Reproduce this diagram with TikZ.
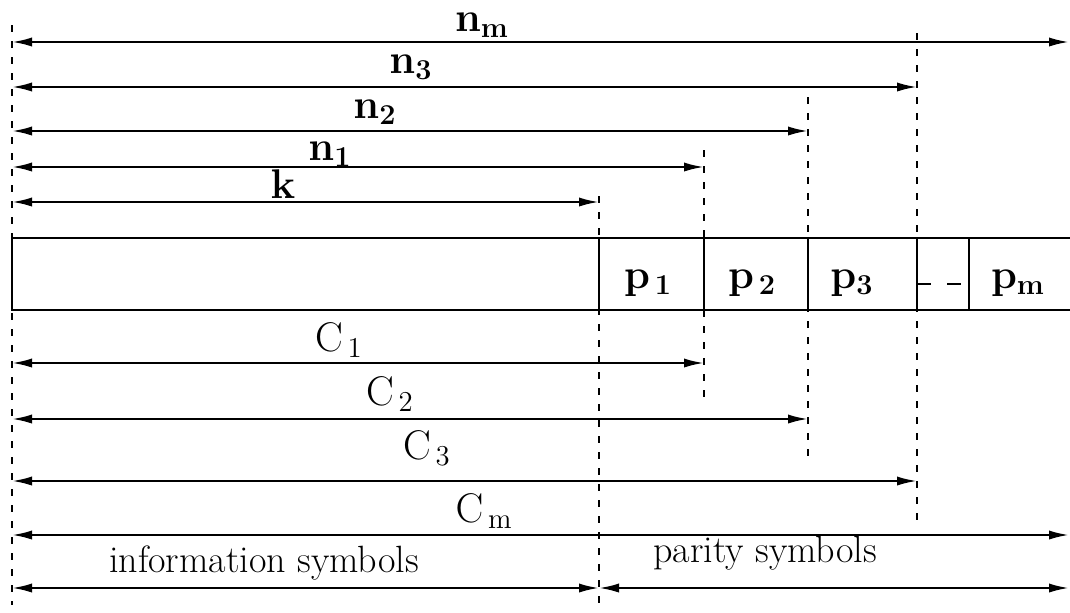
\documentclass[tikz,border=0pt]{standalone}
\usepackage{tikz}
\usetikzlibrary{arrows.meta,positioning}
\tikzset{
  span/.style={
    line width=1.1pt,
    {Latex[length=10pt,width=4.6pt]}-{Latex[length=10pt,width=4.6pt]}
  },
  cut/.style={
    line width=1.4pt,
    dash pattern=on 3.5pt off 4.5pt
  },
  blk/.style={
    line width=1pt
  },
  lbl/.style={
    font=\fontsize{21}{23}\selectfont,
    inner sep=0pt
  },
  txt/.style={
    font=\fontsize{19}{21}\selectfont,
    inner sep=0pt
  }
}

\begin{document}
\begin{tikzpicture}[x=0.5pt,y=-0.5pt]
        \useasboundingbox (0,0) rectangle (1070,612);
        % borders of the code word
        \coordinate (x0) at (12,0);
        \coordinate (xk) at (599,0);
        \coordinate (x1) at (704,0);
        \coordinate (x2) at (808,0);
        \coordinate (x3) at (917,0);
        \coordinate (xd) at (969,0);
        \coordinate (xe) at (1069,0);
        % dashed cuts
        \draw[cut] (x0 |- 0,25) -- (x0 |- 0,605);
        \draw[cut] (xk |- 0,196) -- (xk |- 0,605);
        \draw[cut] (x1 |- 0,150) -- (x1 |- 0,398);
        \draw[cut] (x2 |- 0,97) -- (x2 |- 0,462);
        \draw[cut] (x3 |- 0,33) -- (x3 |- 0,524);
        % lengths n and k
        \draw[span] (x0 |- 0,42) -- (xe |- 0,42);
        \draw[span] (x0 |- 0,87) -- (x3 |- 0,87);
        \draw[span] (x0 |- 0,131) -- (x2 |- 0,131);
        \draw[span] (x0 |- 0,167) -- (x1 |- 0,167);
        \draw[span] (x0 |- 0,202) -- (xk |- 0,202);
        \node[lbl] (nm) at (482,25) {$\mathbf{n_m}$};
        \node[lbl] (n3) at (411,67) {$\mathbf{n_3}$};
        \node[lbl] (n2) at (375,112) {$\mathbf{n_2}$};
        \node[lbl] (n1) at (330,154) {$\mathbf{n}_{\mathbf{1}}$};
        \node[lbl] (k) at (283,184) {$\mathbf{k}$};
        % the code word
        \draw[blk, fill=white] (x0 |- 0,238) rectangle (1072,310);
        \draw[blk] (xk |- 0,238) -- (xk |- 0,310);
        \draw[blk] (x1 |- 0,238) -- (x1 |- 0,310);
        \draw[blk] (x2 |- 0,238) -- (x2 |- 0,310);
        \draw[blk] (x3 |- 0,238) -- (x3 |- 0,310);
        \draw[blk] (xd |- 0,238) -- (xd |- 0,310);
        \draw[blk, dash pattern=on 7pt off 8pt] (x3 |- 0,284) -- (xd |- 0,284);
        \node[lbl] (p1) at (648,283) {$\mathbf{p}_{\,\mathbf{1}}$};
        \node[lbl] (p2) at (752,283) {$\mathbf{p}_{\,\mathbf{2}}$};
        \node[lbl] (p3) at (852,283) {$\mathbf{p_3}$};
        \node[lbl] (pm) at (1018,283) {$\mathbf{p_m}$};
        % component codes
        \draw[span] (x0 |- 0,363) -- (x1 |- 0,363);
        \draw[span] (x0 |- 0,419) -- (x2 |- 0,419);
        \draw[span] (x0 |- 0,481) -- (x3 |- 0,481);
        \draw[span] (x0 |- 0,535) -- (xe |- 0,535);
        \node[lbl] (c1) at (339,340) {$\mathrm{C}_{\,1}$};
        \node[lbl] (c2) at (390,394) {$\mathrm{C}_{\,2}$};
        \node[lbl] (c3) at (427,448) {$\mathrm{C}_{\,3}$};
        \node[lbl] (cm) at (484,511) {$\mathrm{C}_{\,\mathrm{m}}$};
        % information / parity
        \draw[span] (x0 |- 0,588) -- (xk |- 0,588);
        \draw[span] (xk |- 0,588) -- (xe |- 0,588);
        \node[txt] (info) at (264,563) {information symbols};
        \node[txt] (par) at (765,553) {parity symbols};
\end{tikzpicture}
\end{document}
